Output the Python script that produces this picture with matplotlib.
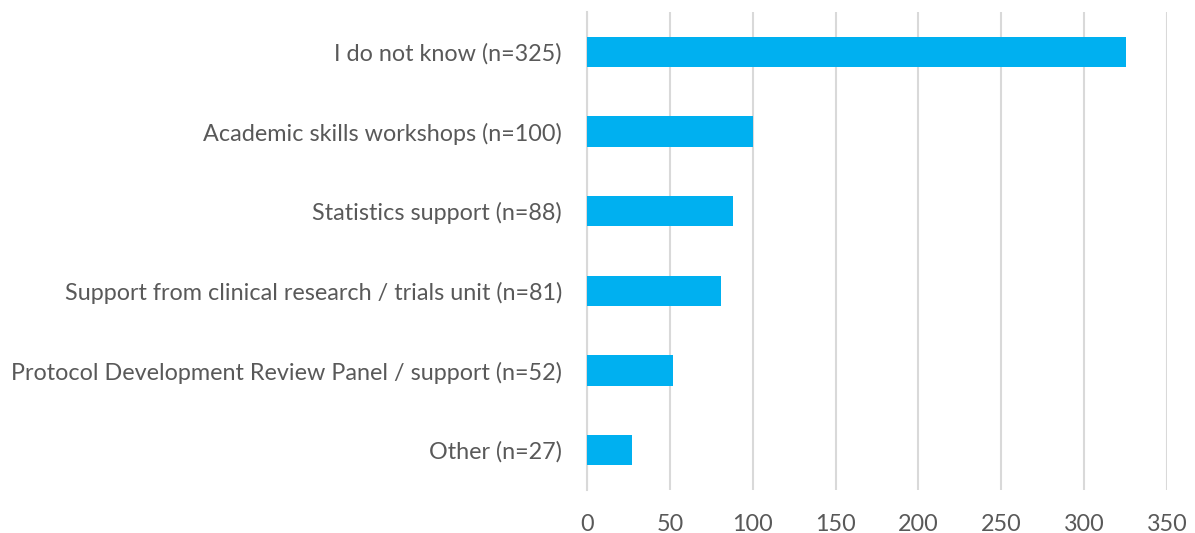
import matplotlib.pyplot as plt

categories = [
    "I do not know (n=325)",
    "Academic skills workshops (n=100)",
    "Statistics support (n=88)",
    "Support from clinical research / trials unit (n=81)",
    "Protocol Development Review Panel / support (n=52)",
    "Other (n=27)",
]
counts = [325, 100, 88, 81, 52, 27]
xticks = [0, 50, 100, 150, 200, 250, 300, 350]

plt.rcParams['font.family'] = ['Lato', 'DejaVu Sans']

fig = plt.figure(figsize=(11.95, 5.33), dpi=100)
ax = fig.add_axes([0.4912, 0.0807, 0.4854, 0.8968])

ypos = list(range(len(categories)))[::-1]
ax.barh(ypos, counts, height=0.38, color='#00B0F0', zorder=3)

ax.set_xlim(0, 350)
ax.set_ylim(-0.5, 5.5)
ax.set_xticks(xticks)
ax.set_yticks(ypos)
ax.set_yticklabels(categories)

ax.grid(axis='x', color='#D9D9D9', linewidth=1.5, zorder=0)
for s in ['top', 'right', 'bottom']:
    ax.spines[s].set_visible(False)
ax.spines['left'].set_color('#D9D9D9')
ax.spines['left'].set_linewidth(1.5)
ax.tick_params(axis='both', length=0, labelcolor='#595959', labelsize=16.8)
ax.tick_params(axis='x', pad=17)
ax.tick_params(axis='y', pad=18)

fig.savefig('out.png', dpi=100)
